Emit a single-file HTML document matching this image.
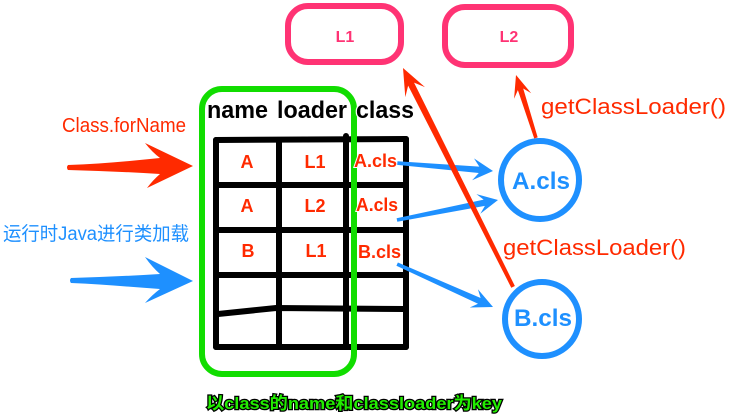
<!DOCTYPE html>
<html>
<head>
<meta charset="utf-8">
<style>
  html,body{margin:0;padding:0;background:#fff;}
  body{width:739px;height:418px;overflow:hidden;}
  svg{display:block;}
  text{font-family:"Liberation Sans","Noto Sans CJK SC",sans-serif;}
</style>
</head>
<body>
<svg width="739" height="418" viewBox="0 0 739 418" xmlns="http://www.w3.org/2000/svg">
  <rect x="0" y="0" width="739" height="418" fill="#fff"/>

  <!-- Pink loader boxes -->
  <rect x="288" y="6" width="113" height="56" rx="20" ry="20" fill="none" stroke="#ff3374" stroke-width="6"/>
  <rect x="445" y="7" width="126" height="58" rx="20" ry="20" fill="none" stroke="#ff3374" stroke-width="6"/>
  <text x="345" y="42" font-size="16" font-weight="bold" fill="#ff3374" text-anchor="middle" stroke="#fff" stroke-width="2" paint-order="stroke">L1</text>
  <text x="509" y="42" font-size="16" font-weight="bold" fill="#ff3374" text-anchor="middle" stroke="#fff" stroke-width="2" paint-order="stroke">L2</text>

  <!-- Table lines -->
  <g stroke="#000" stroke-width="6" stroke-linecap="round" fill="none">
    <line x1="216" y1="140" x2="406" y2="139"/>
    <line x1="216" y1="140" x2="216" y2="347"/>
    <line x1="279" y1="141" x2="279" y2="346"/>
    <line x1="346" y1="136" x2="346" y2="346"/>
    <line x1="406" y1="139" x2="406" y2="347"/>
    <line x1="218" y1="185" x2="404" y2="185"/>
    <line x1="218" y1="230" x2="403" y2="230"/>
    <line x1="216" y1="275" x2="403" y2="275"/>
    <path d="M218,314 Q248,311 276,308 L404,309"/>
    <line x1="216" y1="347" x2="406" y2="347"/>
  </g>

  <!-- Green rounded rect -->
  <rect x="202" y="89" width="152" height="285" rx="20" ry="20" fill="none" stroke="#11dd00" stroke-width="6"/>

  <!-- Headers -->
  <g font-size="24" font-weight="bold" fill="#000" stroke="#fff" stroke-width="2.5" paint-order="stroke">
    <text x="207" y="118" textLength="61" lengthAdjust="spacingAndGlyphs">name</text>
    <text x="277" y="118" textLength="70" lengthAdjust="spacingAndGlyphs">loader</text>
    <text x="356" y="118" textLength="58" lengthAdjust="spacingAndGlyphs">class</text>
  </g>

  <!-- Cell texts -->
  <g font-size="18" font-weight="bold" fill="#ff2a00" stroke="#fff" stroke-width="2" paint-order="stroke">
    <text x="247" y="168" text-anchor="middle">A</text>
    <text x="315" y="168" text-anchor="middle">L1</text>
    <text x="354" y="167" textLength="43" lengthAdjust="spacingAndGlyphs">A.cls</text>
    <text x="247" y="212" text-anchor="middle">A</text>
    <text x="315" y="212" text-anchor="middle">L2</text>
    <text x="356" y="211" textLength="42" lengthAdjust="spacingAndGlyphs">A.cls</text>
    <text x="248" y="257" text-anchor="middle">B</text>
    <text x="316" y="257" text-anchor="middle">L1</text>
    <text x="358" y="258" textLength="43" lengthAdjust="spacingAndGlyphs">B.cls</text>
  </g>

  <!-- Big left arrows -->
  <path d="M68,165 C100,164 130,161 160,158 Q152,152 145,143 L193,166 L147,188 Q153,180 160,174 C130,172 100,171 68,170 Q66,167.5 68,165 Z" fill="#ff2a00"/>
  <path d="M71,278 C100,277 130,276 160,274 Q152,267 145,257 L193,281 L145,303 Q152,295 160,289 C130,287 100,284 71,283 Q69,280.5 71,278 Z" fill="#1e90ff"/>

  <!-- Left labels -->
  <text x="62" y="132" font-size="20" fill="#ff2a00" textLength="124" lengthAdjust="spacingAndGlyphs" stroke="#fff" stroke-width="1.5" paint-order="stroke">Class.forName</text>
  <text x="3" y="240" font-size="19" fill="#1e90ff" textLength="186" lengthAdjust="spacingAndGlyphs" stroke="#fff" stroke-width="1.5" paint-order="stroke">运行时Java进行类加载</text>

  <!-- Circles -->
  <circle cx="540" cy="180" r="39" fill="#fff" stroke="#1e90ff" stroke-width="6"/>
  <circle cx="542" cy="319" r="37" fill="#fff" stroke="#1e90ff" stroke-width="6"/>
  <text x="512" y="189" font-size="24" font-weight="bold" fill="#1e90ff" textLength="58" lengthAdjust="spacingAndGlyphs" stroke="#fff" stroke-width="2" paint-order="stroke">A.cls</text>
  <text x="514" y="326" font-size="24" font-weight="bold" fill="#1e90ff" textLength="58" lengthAdjust="spacingAndGlyphs" stroke="#fff" stroke-width="2" paint-order="stroke">B.cls</text>

  <!-- Blue small arrows -->
  <g fill="#1e90ff">
    <path transform="translate(493,171) rotate(4.76)" d="M-96,-1.8 L-14,-3.2 L-20,-11 L0,0 L-20,11 L-14,3.2 L-96,1.8 Z"/>
    <path transform="translate(498,200) rotate(-11.2)" d="M-103,-1.8 L-14,-3.2 L-20,-10 L0,0 L-20,10 L-14,3.2 L-103,1.8 Z"/>
    <path transform="translate(493,307) rotate(24.1)" d="M-105,-1.8 L-15,-3.2 L-21,-10 L0,0 L-21,10 L-15,3.2 L-105,1.8 Z"/>
  </g>

  <!-- Red getClassLoader arrows -->
  <g fill="#ff2a00">
    <path transform="translate(403,68) rotate(-116.7)" d="M-245,-2 L-18,-3.3 L-27,-11 L0,0 L-27,11 L-18,3.3 L-245,2 Z"/>
    <path transform="translate(516,75) rotate(-107.6)" d="M-66,-1.8 L-15,-2.8 L-22,-9 L0,0 L-22,9 L-15,2.8 L-66,1.8 Z"/>
  </g>

  <!-- getClassLoader labels -->
  <text x="541" y="114" font-size="22" fill="#ff2a00" textLength="185" lengthAdjust="spacingAndGlyphs" stroke="#fff" stroke-width="1.5" paint-order="stroke">getClassLoader()</text>
  <text x="503" y="255" font-size="22" fill="#ff2a00" textLength="183" lengthAdjust="spacingAndGlyphs" stroke="#fff" stroke-width="1.5" paint-order="stroke">getClassLoader()</text>

  <!-- Bottom green caption -->
  <text x="206" y="409" font-size="17" font-weight="bold" fill="#22ee00" textLength="296" lengthAdjust="spacingAndGlyphs" stroke="#000" stroke-width="2.5" paint-order="stroke">以class的name和classloader为key</text>
</svg>
</body>
</html>
